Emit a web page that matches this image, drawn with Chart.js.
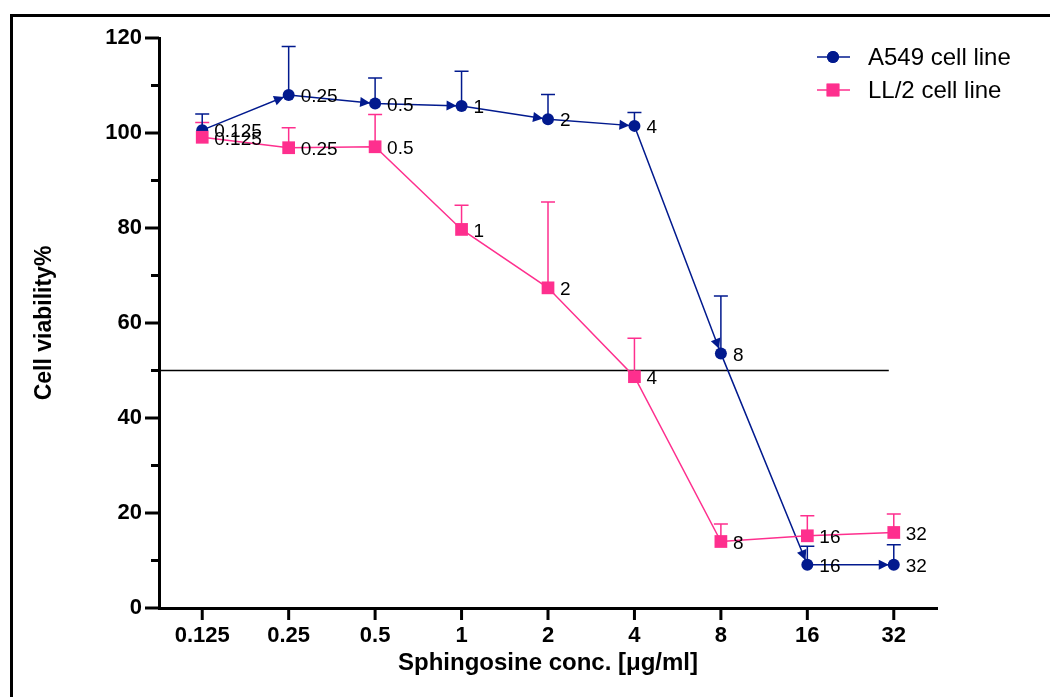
<!DOCTYPE html>
<html>
<head>
<meta charset="utf-8">
<script src="https://cdn.jsdelivr.net/npm/chart.js@4"></script>
<style>
  html, body { margin: 0; padding: 0; background: #fff; }
</style>
</head>
<body>
<canvas id="viability" width="1050" height="697"></canvas>
<script>
// data
const concentrations = ["0.125", "0.25", "0.5", "1", "2", "4", "8", "16", "32"];
const a549Viability = [100.6, 108.0, 106.2, 105.7, 102.9, 101.5, 53.6, 9.1, 9.1];
const a549Error = [3.4, 10.2, 5.4, 7.3, 5.2, 2.8, 12.1, 3.9, 4.2];
const ll2Viability = [99.1, 96.9, 97.1, 79.7, 67.4, 48.7, 14.0, 15.2, 15.9];
const ll2Error = [3.1, 4.2, 6.8, 5.1, 18.1, 8.1, 3.7, 4.2, 3.9];
const cutoffLine = 50;

const blue = "#021a8e";
const pink = "#fe2f8e";
const fontFamily = "'Liberation Sans', Arial, Helvetica, sans-serif";

Chart.defaults.font.family = fontFamily;
Chart.defaults.color = "#000";

// white page + the frame that runs off the right and bottom
const framePlugin = {
  id: "frame",
  beforeDraw(chart) {
    const ctx = chart.ctx;
    ctx.save();
    ctx.fillStyle = "#fff";
    ctx.fillRect(0, 0, chart.width, chart.height);
    ctx.strokeStyle = "#000";
    ctx.lineWidth = 3;
    ctx.strokeRect(11.5, 15.5, chart.width + 20, chart.height + 20);
    ctx.restore();
  }
};

// tick marks (major / minor on y), the 50% line, error bars
const axisMarks = {
  id: "axisMarks",
  beforeDatasetsDraw(chart) {
    const ctx = chart.ctx;
    const x = chart.scales.x, y = chart.scales.y;
    const area = chart.chartArea;
    ctx.save();
    ctx.strokeStyle = "#000";
    ctx.lineWidth = 3;
    y.ticks.forEach((t) => {
      const py = y.getPixelForValue(t.value);
      const len = t.value % 20 === 0 ? 14 : 8;
      ctx.beginPath();
      ctx.moveTo(area.left - len, py);
      ctx.lineTo(area.left, py);
      ctx.stroke();
    });
    x.ticks.forEach((t, i) => {
      const px = x.getPixelForValue(i);
      ctx.beginPath();
      ctx.moveTo(px, area.bottom);
      ctx.lineTo(px, area.bottom + 12);
      ctx.stroke();
    });
    // 50% reference line
    const py = y.getPixelForValue(cutoffLine);
    ctx.lineWidth = 1.5;
    ctx.beginPath();
    ctx.moveTo(area.left, py);
    ctx.lineTo(x.getPixelForValue(concentrations.length - 1) - 5, py);
    ctx.stroke();

    // upward error bars
    chart.data.datasets.forEach((ds, di) => {
      const meta = chart.getDatasetMeta(di);
      ctx.strokeStyle = ds.borderColor;
      ctx.lineWidth = 1.5;
      meta.data.forEach((pt, i) => {
        const top = y.getPixelForValue(ds.data[i] + ds.errors[i]);
        ctx.beginPath();
        ctx.moveTo(pt.x, pt.y);
        ctx.lineTo(pt.x, top);
        ctx.moveTo(pt.x - 7, top);
        ctx.lineTo(pt.x + 7, top);
        ctx.stroke();
      });
    });
    ctx.restore();
  }
};

// arrowheads on the A549 segments, value labels, legend
const overlay = {
  id: "overlay",
  afterDatasetsDraw(chart) {
    const ctx = chart.ctx;
    ctx.save();
    chart.data.datasets.forEach((ds, di) => {
      const pts = chart.getDatasetMeta(di).data;
      if (ds.arrowHeads) {
        ctx.fillStyle = ds.borderColor;
        for (let i = 1; i < pts.length; i++) {
          const a = Math.atan2(pts[i].y - pts[i - 1].y, pts[i].x - pts[i - 1].x);
          const tx = pts[i].x - 5 * Math.cos(a), ty = pts[i].y - 5 * Math.sin(a);
          const bx = tx - 10 * Math.cos(a), by = ty - 10 * Math.sin(a);
          ctx.beginPath();
          ctx.moveTo(tx, ty);
          ctx.lineTo(bx + 5 * Math.sin(a), by - 5 * Math.cos(a));
          ctx.lineTo(bx - 5 * Math.sin(a), by + 5 * Math.cos(a));
          ctx.closePath();
          ctx.fill();
        }
      }
      ctx.fillStyle = "#000";
      ctx.font = "19px " + fontFamily;
      ctx.textAlign = "left";
      ctx.textBaseline = "middle";
      pts.forEach((pt, i) => {
        ctx.fillText(chart.data.labels[i], pt.x + 12, pt.y + 2);
      });
    });

    // legend, A549 first
    const lx = chart.chartArea.right - 120;
    chart.data.datasets.slice().sort((a, b) => a.legendOrder - b.legendOrder).forEach((ds, k) => {
      const ly = 57 + k * 33;
      ctx.strokeStyle = ds.borderColor;
      ctx.fillStyle = ds.borderColor;
      ctx.lineWidth = 1.5;
      ctx.beginPath();
      ctx.moveTo(lx, ly);
      ctx.lineTo(lx + 33, ly);
      ctx.stroke();
      Chart.helpers.drawPoint(ctx, { pointStyle: ds.pointStyle, radius: ds.pointRadius, borderWidth: 0 }, lx + 16, ly);
      ctx.fill();
      ctx.fillStyle = "#000";
      ctx.font = "24px " + fontFamily;
      ctx.textAlign = "left";
      ctx.textBaseline = "middle";
      ctx.fillText(ds.label, lx + 51, ly + 1);
    });
    ctx.restore();
  }
};

new Chart(document.getElementById("viability").getContext("2d"), {
  type: "line",
  data: {
    labels: concentrations,
    datasets: [
      {
        label: "LL/2 cell line",
        legendOrder: 1,
        data: ll2Viability,
        errors: ll2Error,
        borderColor: pink,
        backgroundColor: pink,
        borderWidth: 1.5,
        pointStyle: "rect",
        pointRadius: 9,
        pointBorderWidth: 0,
      },
      {
        label: "A549 cell line",
        legendOrder: 0,
        data: a549Viability,
        errors: a549Error,
        arrowHeads: true,
        borderColor: blue,
        backgroundColor: blue,
        borderWidth: 1.5,
        pointStyle: "circle",
        pointRadius: 6,
        pointBorderWidth: 0,
      },
    ],
  },
  options: {
    responsive: false,
    animation: false,
    events: [],
    layout: { padding: { top: 38, right: 113, left: 0, bottom: 0 } },
    plugins: {
      legend: { display: false },
      tooltip: { enabled: false },
    },
    scales: {
      x: {
        type: "category",
        offset: true,
        grid: { display: false },
        border: { display: true, color: "#000", width: 3 },
        ticks: { padding: 7, font: { size: 22, weight: "bold" }, color: "#000" },
        title: {
          display: true,
          text: "Sphingosine conc. [\u03bcg/ml]",
          font: { size: 24, weight: "bold" },
          padding: { top: 0, bottom: 19 },
        },
        afterFit: (scale) => { scale.height = 89; },
      },
      y: {
        min: 0,
        max: 120,
        grid: { display: false },
        border: { display: true, color: "#000", width: 3 },
        ticks: {
          stepSize: 10,
          padding: 9,
          font: { size: 22, weight: "bold" },
          color: "#000",
          callback: (v) => (v % 20 === 0 ? v : ""),
        },
        title: {
          display: true,
          text: "Cell viability%",
          font: { size: 23, weight: "bold" },
          padding: { top: 31, bottom: 0 },
        },
        afterFit: (scale) => { scale.width = 159; },
      },
    },
  },
  plugins: [framePlugin, axisMarks, overlay],
});
</script>
</body>
</html>
